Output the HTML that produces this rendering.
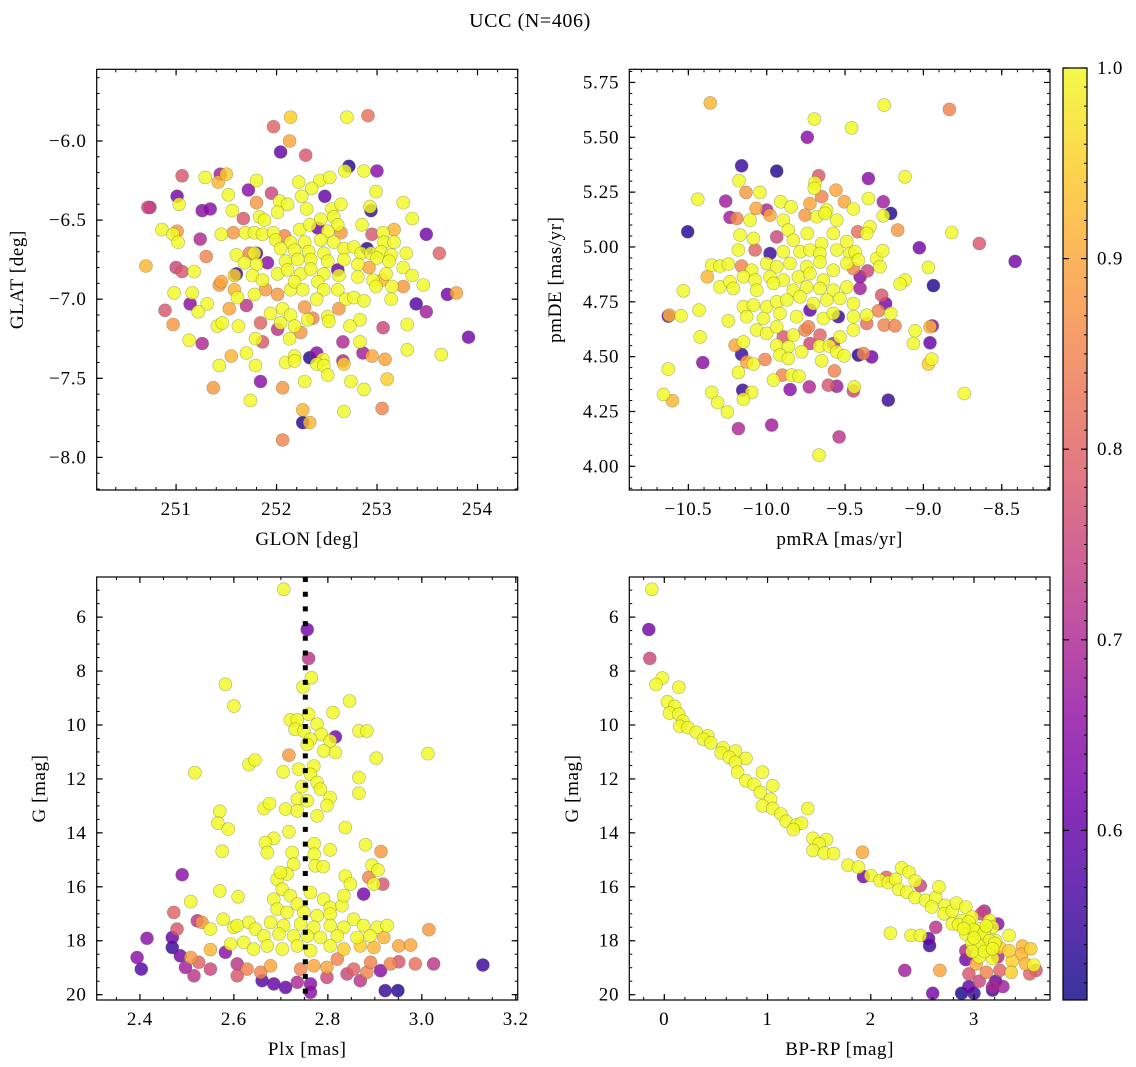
<!DOCTYPE html>
<html><head><meta charset="utf-8"><title>UCC (N=406)</title>
<style>
html,body{margin:0;padding:0;background:#fff;}
svg{display:block;font-family:"Liberation Serif","DejaVu Serif",serif;}
</style></head>
<body>
<svg id="fig" width="1136" height="1067" viewBox="0 0 1136 1067" xmlns="http://www.w3.org/2000/svg">
<text x="530" y="27" font-size="20" letter-spacing="0.6" text-anchor="middle" fill="#000">UCC (N=406)</text>
</svg>
<script>
// ---- Panel 1 data: [GLON, GLAT, prob]
const posPoints = [
[252.14,-5.85,0.95],[252.70,-5.85,1],[252.91,-5.84,0.82],[251.97,-5.91,0.8],[252.13,-6.0,0.9],[252.04,-6.07,0.6],[252.29,-6.09,0.78],[252.72,-6.16,0.53],[252.68,-6.19,1],[252.87,-6.19,1],[253.0,-6.19,0.65],[251.06,-6.22,0.78],[251.44,-6.21,0.68],[251.5,-6.21,0.95],[251.29,-6.23,1],[251.42,-6.26,0.92],[251.8,-6.25,1],[252.22,-6.26,1],[252.43,-6.25,1],[252.53,-6.23,1],[251.72,-6.31,0.65],[251.95,-6.33,0.75],[252.35,-6.3,1],[252.99,-6.32,1],[252.48,-6.35,0.6],[251.52,-6.34,1],[252.25,-6.35,1],[250.74,-6.42,0.72],[250.72,-6.42,0.75],[251.01,-6.35,0.62],[251.03,-6.4,1],[251.26,-6.44,0.65],[251.34,-6.43,0.65],[251.56,-6.44,1],[251.8,-6.39,0.88],[252.03,-6.38,1],[252.11,-6.4,1],[252.01,-6.45,1],[252.3,-6.43,1],[252.55,-6.43,1],[252.64,-6.4,1],[252.93,-6.415,1],[252.94,-6.44,0.55],[253.26,-6.39,1],[253.35,-6.49,1],[251.67,-6.49,0.78],[251.83,-6.48,1],[251.88,-6.5,1],[252.44,-6.495,1],[252.57,-6.48,1],[252.61,-6.53,1],[250.86,-6.56,1],[251.01,-6.57,0.88],[250.97,-6.59,1],[251.02,-6.64,1],[251.24,-6.62,0.7],[251.45,-6.59,1],[251.57,-6.58,0.88],[251.69,-6.58,1],[251.78,-6.58,1],[251.86,-6.59,1],[251.97,-6.58,1],[252.08,-6.6,0.85],[252.23,-6.56,1],[252.33,-6.53,1],[252.41,-6.55,0.62],[252.51,-6.57,1],[252.64,-6.58,0.88],[252.85,-6.53,1],[252.95,-6.59,0.78],[253.06,-6.58,1],[253.17,-6.56,0.92],[253.49,-6.59,0.62],[251.99,-6.625,1],[252.14,-6.64,1],[252.28,-6.64,1],[252.44,-6.625,1],[252.57,-6.64,1],[252.67,-6.68,1],[252.77,-6.67,1],[252.9,-6.68,0.53],[253.07,-6.64,1],[253.17,-6.64,1],[251.3,-6.73,0.85],[251.6,-6.72,1],[251.73,-6.71,0.85],[251.78,-6.71,1],[251.8,-6.71,0.6],[252.04,-6.68,1],[252.18,-6.69,1],[252.32,-6.7,1],[252.47,-6.71,1],[252.84,-6.71,1],[252.94,-6.71,1],[253.04,-6.7,1],[253.14,-6.72,1],[253.29,-6.71,1],[253.62,-6.71,0.8],[250.7,-6.79,0.92],[251.0,-6.8,0.75],[251.06,-6.825,0.78],[251.18,-6.825,1],[251.68,-6.77,1],[251.8,-6.78,1],[251.91,-6.77,0.65],[252.09,-6.76,1],[252.21,-6.75,1],[252.34,-6.75,1],[252.51,-6.76,1],[252.67,-6.75,1],[252.81,-6.78,1],[252.92,-6.8,0.9],[253.0,-6.74,1],[253.12,-6.76,1],[253.26,-6.8,1],[251.6,-6.84,0.55],[251.58,-6.85,0.95],[251.76,-6.85,1],[251.86,-6.88,1],[252.01,-6.84,1],[252.11,-6.815,1],[252.24,-6.84,1],[252.34,-6.81,1],[252.47,-6.84,1],[252.61,-6.815,0.6],[252.62,-6.85,1],[252.81,-6.86,1],[252.96,-6.88,1],[253.05,-6.88,0.92],[253.09,-6.84,1],[253.35,-6.85,1],[253.46,-6.91,1],[251.43,-6.91,0.88],[251.45,-6.89,0.9],[251.58,-6.94,0.92],[251.61,-6.99,1],[251.78,-6.97,1],[251.89,-6.94,0.88],[252.01,-6.97,0.88],[252.14,-6.94,1],[252.18,-6.89,1],[252.26,-6.94,1],[252.41,-6.89,1],[252.47,-6.94,1],[252.61,-6.94,1],[252.69,-7.0,1],[252.77,-6.99,1],[252.87,-7.01,1],[252.99,-6.92,1],[253.15,-6.92,1],[253.26,-6.92,0.88],[253.14,-7.0,1],[253.7,-6.97,0.62],[253.79,-6.96,0.9],[250.98,-6.96,1],[251.16,-6.96,1],[251.14,-7.03,0.65],[251.31,-7.03,1],[251.22,-7.08,1],[250.89,-7.07,0.78],[250.97,-7.16,0.88],[251.53,-7.06,0.9],[251.7,-7.04,0.72],[251.94,-7.09,1],[252.06,-7.06,1],[252.14,-7.1,1],[252.28,-7.05,0.88],[252.36,-7.12,0.85],[252.4,-7.0,1],[252.51,-7.11,1],[252.62,-7.06,0.88],[252.83,-7.13,1],[253.39,-7.03,0.58],[253.49,-7.08,0.68],[253.06,-7.18,0.75],[253.3,-7.16,1],[253.91,-7.24,0.62],[251.41,-7.17,1],[251.46,-7.15,1],[251.62,-7.17,1],[251.84,-7.15,0.8],[252.01,-7.19,0.72],[252.04,-7.15,1],[252.18,-7.17,1],[252.31,-7.13,1],[252.52,-7.14,1],[252.73,-7.17,1],[251.13,-7.26,1],[251.26,-7.28,0.7],[251.79,-7.25,1],[251.86,-7.27,0.78],[252.13,-7.25,1],[252.24,-7.21,0.88],[252.66,-7.27,0.7],[252.83,-7.27,1],[252.86,-7.34,0.68],[252.95,-7.36,0.9],[253.08,-7.38,0.9],[253.3,-7.32,1],[253.64,-7.35,1],[251.55,-7.36,0.92],[251.7,-7.34,1],[251.43,-7.42,1],[251.79,-7.42,1],[252.09,-7.4,1],[252.18,-7.36,1],[252.18,-7.39,1],[252.33,-7.37,0.53],[252.4,-7.34,0.65],[252.46,-7.38,1],[252.4,-7.41,1],[252.47,-7.42,1],[252.51,-7.48,1],[252.67,-7.41,0.95],[252.66,-7.39,0.7],[252.28,-7.52,1],[252.74,-7.52,1],[252.87,-7.57,1],[253.1,-7.505,0.95],[251.84,-7.52,0.65],[251.37,-7.56,0.88],[252.06,-7.56,0.88],[251.74,-7.64,1],[252.26,-7.7,0.92],[253.05,-7.69,0.85],[252.67,-7.71,1],[252.26,-7.78,0.53],[252.33,-7.78,0.92],[252.06,-7.89,0.85]
];
// ---- Panel 2 data: [pmRA, pmDE, prob]
const pmPoints = [
[-10.36,5.657,0.92],[-9.25,5.647,1],[-8.834,5.627,0.85],[-9.696,5.583,1],[-9.458,5.543,1],[-9.741,5.5,0.65],[-10.16,5.37,0.55],[-9.936,5.346,0.53],[-9.668,5.325,0.78],[-9.692,5.293,1],[-9.351,5.312,0.65],[-9.117,5.32,1],[-10.177,5.302,1],[-10.132,5.249,0.88],[-10.043,5.249,1],[-9.696,5.267,1],[-9.558,5.259,0.9],[-9.649,5.229,0.85],[-10.44,5.218,1],[-10.262,5.209,0.68],[-9.911,5.206,1],[-9.845,5.183,1],[-9.724,5.198,0.9],[-9.504,5.206,0.9],[-9.447,5.173,1],[-9.351,5.221,1],[-9.256,5.206,0.68],[-9.209,5.153,0.53],[-10.068,5.176,0.9],[-10.0,5.168,0.7],[-10.234,5.135,0.68],[-10.191,5.13,0.85],[-10.106,5.122,1],[-9.979,5.145,0.9],[-9.894,5.122,1],[-9.755,5.145,0.88],[-9.681,5.138,1],[-9.617,5.168,1],[-9.553,5.122,1],[-9.628,5.153,1],[-9.256,5.142,1],[-9.419,5.069,0.82],[-9.341,5.092,1],[-9.164,5.077,0.88],[-8.819,5.066,1],[-8.643,5.016,0.78],[-10.504,5.069,0.53],[-10.17,5.054,1],[-10.085,5.039,1],[-9.936,5.046,0.75],[-9.862,5.077,1],[-9.83,5.031,1],[-9.741,5.062,1],[-9.649,5.016,1],[-9.575,5.062,1],[-9.489,5.024,1],[-9.362,5.062,1],[-10.181,4.986,1],[-10.074,4.986,0.8],[-9.979,4.97,0.55],[-9.894,4.978,1],[-9.787,4.978,1],[-9.724,4.986,1],[-9.66,4.97,1],[-9.553,4.986,1],[-9.468,4.97,1],[-9.436,4.978,1],[-9.298,4.948,1],[-9.26,4.983,1],[-9.026,4.996,0.62],[-8.415,4.934,0.62],[-8.968,4.907,1],[-8.936,4.824,0.53],[-9.117,4.849,1],[-9.149,4.831,1],[-10.379,4.864,0.92],[-10.351,4.917,1],[-10.298,4.913,1],[-10.245,4.922,1],[-10.298,4.818,1],[-10.234,4.841,1],[-10.16,4.913,0.85],[-10.096,4.894,1],[-10.0,4.925,1],[-9.936,4.91,1],[-9.851,4.925,1],[-9.745,4.91,1],[-9.66,4.932,1],[-9.575,4.894,1],[-9.489,4.925,1],[-9.415,4.94,1],[-9.447,4.902,0.85],[-9.357,4.891,0.75],[-9.277,4.91,1],[-10.149,4.864,1],[-10.074,4.849,1],[-9.979,4.864,1],[-9.894,4.849,1],[-9.798,4.864,1],[-9.724,4.879,1],[-9.638,4.849,1],[-9.404,4.864,0.65],[-10.213,4.811,1],[-10.064,4.803,1],[-9.957,4.834,1],[-9.83,4.803,1],[-9.745,4.818,1],[-9.66,4.811,1],[-9.575,4.803,1],[-9.489,4.818,1],[-9.404,4.811,0.68],[-10.532,4.8,1],[-10.432,4.712,1],[-10.547,4.686,1],[-10.628,4.685,0.6],[-10.621,4.689,0.92],[-10.245,4.663,1],[-10.149,4.727,1],[-10.085,4.735,1],[-10.0,4.727,1],[-9.936,4.75,1],[-9.872,4.758,1],[-9.787,4.773,1],[-9.702,4.742,1],[-9.617,4.758,1],[-9.532,4.765,1],[-9.447,4.742,1],[-9.266,4.78,0.78],[-9.241,4.742,0.62],[-10.128,4.682,1],[-10.021,4.674,1],[-9.915,4.697,1],[-9.809,4.682,1],[-9.724,4.712,0.6],[-9.638,4.674,1],[-9.543,4.682,0.55],[-9.575,4.697,1],[-9.447,4.682,1],[-9.362,4.689,1],[-9.287,4.709,0.85],[-9.209,4.697,1],[-9.362,4.651,0.82],[-9.251,4.644,0.85],[-9.181,4.64,0.85],[-9.053,4.618,1],[-8.943,4.64,0.65],[-8.958,4.636,0.92],[-9.064,4.56,1],[-8.958,4.563,0.6],[-8.968,4.466,0.95],[-8.947,4.489,1],[-10.425,4.59,1],[-10.628,4.443,1],[-10.408,4.473,0.65],[-10.16,4.51,0.55],[-10.128,4.476,0.9],[-10.085,4.466,1],[-10.181,4.428,1],[-10.202,4.552,0.9],[-10.149,4.567,1],[-10.064,4.621,1],[-10.0,4.606,1],[-9.936,4.636,1],[-9.894,4.59,0.78],[-9.83,4.598,1],[-9.755,4.621,0.85],[-9.734,4.636,0.85],[-9.66,4.598,0.8],[-9.575,4.56,0.7],[-9.532,4.59,1],[-9.447,4.621,1],[-9.936,4.552,1],[-9.862,4.545,1],[-9.777,4.522,1],[-9.724,4.56,0.75],[-9.664,4.548,1],[-9.6,4.548,1],[-9.553,4.522,1],[-9.506,4.504,1],[-9.649,4.481,1],[-10.011,4.487,0.85],[-9.915,4.507,1],[-9.862,4.492,1],[-9.415,4.507,0.53],[-9.383,4.514,0.85],[-9.33,4.499,0.62],[-9.568,4.435,0.85],[-9.957,4.393,1],[-9.9,4.416,0.85],[-9.841,4.416,1],[-9.794,4.411,1],[-9.851,4.35,0.65],[-9.728,4.362,0.7],[-9.607,4.37,0.78],[-9.553,4.365,0.68],[-9.447,4.344,0.75],[-9.441,4.362,1],[-10.153,4.347,0.55],[-10.096,4.337,1],[-10.149,4.306,1],[-10.351,4.337,1],[-10.313,4.291,1],[-10.251,4.248,1],[-10.659,4.328,1],[-10.602,4.299,0.92],[-9.224,4.302,0.55],[-8.739,4.332,1],[-10.181,4.172,0.7],[-9.968,4.188,0.68],[-9.538,4.134,0.72],[-9.666,4.051,1]
];
// ---- Panel 3 data: [Plx, G, prob]
const plxPoints = [
[2.706,4.97,1],[2.756,6.46,0.62],[2.759,7.53,0.72],[2.765,8.25,1],[2.747,8.59,1],[2.582,8.49,1],[2.6,9.3,1],[2.846,9.11,1],[2.811,9.54,1],[2.759,9.6,1],[2.72,9.81,1],[2.735,9.81,1],[2.777,9.97,1],[2.73,10.16,1],[2.749,10.22,1],[2.786,10.35,1],[2.816,10.44,0.62],[2.866,10.22,1],[2.883,10.22,1],[2.805,10.59,1],[2.763,10.53,1],[2.816,11.02,1],[2.791,10.96,1],[2.756,10.72,1],[2.717,11.12,0.88],[3.013,11.06,1],[2.903,11.23,1],[2.632,11.47,1],[2.645,11.3,1],[2.517,11.77,1],[2.705,11.74,1],[2.738,11.64,1],[2.77,11.52,1],[2.763,11.83,1],[2.866,11.95,1],[2.866,12.53,1],[2.745,12.28,1],[2.777,12.13,1],[2.784,12.38,1],[2.805,12.69,1],[2.798,12.99,1],[2.735,12.75,1],[2.756,12.81,1],[2.71,13.12,1],[2.664,13.1,1],[2.676,12.91,1],[2.735,13.18,1],[2.777,13.37,1],[2.57,13.2,1],[2.566,13.64,1],[2.588,13.86,1],[2.837,13.8,1],[2.717,13.96,1],[2.685,14.2,1],[2.667,14.36,1],[2.671,14.73,1],[2.575,14.68,1],[2.771,14.4,1],[2.805,14.63,1],[2.88,14.44,1],[2.913,14.69,0.88],[2.724,14.73,1],[2.771,14.79,1],[2.727,15.16,1],[2.773,15.22,1],[2.79,15.25,1],[2.49,15.55,0.65],[2.876,16.27,0.62],[2.894,15.2,1],[2.907,15.38,1],[2.887,15.65,0.85],[2.898,15.9,1],[2.917,15.9,0.78],[2.837,15.6,1],[2.848,15.9,1],[2.692,15.72,1],[2.713,15.53,1],[2.57,16.15,1],[2.609,16.37,1],[2.508,16.55,1],[2.472,16.95,0.8],[2.479,17.57,0.78],[2.522,17.26,0.72],[2.532,17.32,0.88],[2.55,17.57,1],[2.577,17.2,1],[2.6,17.5,1],[2.607,17.44,1],[2.632,17.32,1],[2.685,16.46,1],[2.703,16.09,1],[2.699,15.47,1],[2.72,16.33,1],[2.735,16.64,1],[2.763,16.21,1],[2.791,16.46,1],[2.805,16.77,1],[2.83,16.7,1],[2.834,16.33,1],[2.692,16.83,1],[2.713,16.95,1],[2.749,16.95,1],[2.777,17.07,1],[2.805,17.01,1],[2.678,17.32,1],[2.706,17.44,1],[2.742,17.38,1],[2.77,17.5,1],[2.805,17.44,1],[2.834,17.5,1],[2.855,17.2,1],[2.876,17.44,1],[2.905,17.5,1],[2.926,17.44,1],[2.919,17.88,0.92],[2.646,17.57,1],[2.664,17.82,1],[2.696,17.75,1],[2.727,17.82,1],[2.756,17.82,1],[2.784,17.88,1],[2.82,17.82,1],[2.862,17.88,1],[2.89,17.82,1],[2.593,18.12,1],[2.621,18.06,1],[2.642,18.31,1],[2.671,18.19,1],[2.703,18.31,1],[2.735,18.19,1],[2.763,18.37,1],[2.805,18.19,1],[2.834,18.31,0.95],[2.869,18.19,0.95],[2.898,18.25,0.92],[2.951,18.19,0.9],[2.976,18.16,0.9],[3.015,17.59,0.88],[2.55,18.33,0.92],[2.508,18.62,0.88],[2.394,18.62,0.65],[2.415,17.91,0.65],[2.403,19.05,0.58],[2.469,17.88,0.6],[2.469,18.25,0.55],[2.486,18.56,0.62],[2.497,18.99,0.68],[2.515,19.3,0.72],[2.525,18.8,0.8],[2.55,19.05,0.75],[2.582,18.43,0.65],[2.607,18.86,0.72],[2.607,19.3,0.78],[2.628,19.05,0.85],[2.657,19.17,0.85],[2.678,18.93,0.9],[2.66,19.48,0.58],[2.685,19.6,0.6],[2.71,19.73,0.6],[2.735,19.54,0.7],[2.763,19.6,0.65],[2.763,19.91,0.65],[2.742,19.05,0.85],[2.77,18.93,0.9],[2.798,18.99,0.9],[2.798,19.36,0.75],[2.82,18.68,0.85],[2.841,19.23,0.75],[2.855,19.05,0.8],[2.869,19.48,0.72],[2.883,19.17,0.85],[2.891,18.8,0.85],[2.912,19.11,0.65],[2.933,18.86,0.85],[2.951,18.78,0.78],[2.986,18.86,0.82],[3.025,18.86,0.72],[3.13,18.9,0.55],[2.922,19.85,0.55],[2.949,19.85,0.53]
];
// ---- Panel 4 data: [BP-RP, G, prob]
const cmdPoints = [
[-0.12,4.97,1],[-0.15,6.46,0.62],[-0.14,7.53,0.75],[-0.02,8.26,1],[-0.08,8.5,1],[0.14,8.6,1],[0.03,9.14,1],[0.1,9.31,1],[0.05,9.56,1],[0.14,9.6,1],[0.18,9.86,1],[0.15,10.05,1],[0.23,10.1,1],[0.31,10.27,1],[0.42,10.4,1],[0.38,10.53,1],[0.45,10.66,1],[0.57,10.85,1],[0.69,10.97,1],[0.55,11.03,1],[0.63,11.2,1],[0.79,11.24,1],[0.69,11.38,1],[0.71,11.75,1],[0.95,11.75,1],[0.79,12.07,1],[0.87,12.2,1],[1.05,12.25,1],[0.93,12.5,1],[1.03,12.75,1],[0.95,13.0,1],[1.05,13.1,1],[1.13,13.3,1],[1.39,13.1,1],[1.18,13.57,1],[1.28,13.7,1],[1.33,13.64,1],[1.25,13.88,1],[1.44,14.2,1],[1.57,14.25,1],[1.5,14.4,1],[1.44,14.65,1],[1.55,14.75,1],[1.64,14.77,1],[1.92,14.72,0.9],[1.78,15.2,1],[1.88,15.27,1],[1.93,15.62,0.62],[2.0,15.58,1],[2.09,15.77,1],[2.17,15.84,1],[2.15,15.65,0.8],[2.3,15.3,1],[2.37,15.46,1],[2.24,15.72,1],[2.27,16.1,1],[2.35,16.2,1],[2.43,15.78,1],[2.48,15.96,0.75],[2.43,16.4,1],[2.53,16.5,1],[2.63,16.4,1],[2.66,16.0,1],[2.59,16.75,1],[2.72,16.69,1],[2.71,17.0,1],[2.79,16.9,1],[2.83,16.6,1],[2.92,16.75,1],[2.88,17.25,1],[2.98,17.12,1],[3.07,17.0,0.75],[3.1,16.9,0.7],[2.79,17.38,1],[2.95,17.5,1],[3.05,17.57,1],[3.15,17.25,1],[3.18,17.5,1],[3.23,17.38,0.65],[2.92,17.75,1],[3.08,17.88,1],[3.21,18.0,1],[2.98,18.1,1],[3.12,18.25,1],[3.25,18.25,0.95],[3.34,17.8,1],[3.05,18.6,1],[3.18,18.66,1],[3.47,18.2,0.92],[3.55,18.3,0.95],[3.46,18.5,0.92],[3.37,18.75,0.95],[3.5,18.86,0.92],[3.58,18.9,1],[3.02,18.86,0.9],[2.95,19.23,0.78],[3.12,19.17,0.85],[3.25,19.1,0.8],[3.36,19.17,0.95],[3.54,19.23,0.8],[3.6,19.1,0.78],[2.92,18.7,0.62],[3.05,19.5,0.75],[3.18,19.7,0.7],[3.28,19.7,0.68],[3.21,19.5,0.6],[2.95,19.7,0.6],[2.88,19.95,0.52],[3.0,19.95,0.55],[3.18,19.83,0.55],[2.6,19.95,0.62],[2.33,19.1,0.68],[2.67,19.1,0.9],[2.56,17.92,0.6],[2.57,18.18,0.55],[2.63,17.5,0.72],[2.19,17.72,1],[2.39,17.8,1],[2.48,17.8,1],[2.92,18.37,0.7],[3.34,18.37,0.95],[3.23,18.6,0.7],[2.85,17.4,1],[2.95,17.3,1],[3.0,17.6,1],[3.1,17.7,1],[3.15,18.0,1],[3.05,18.2,1],[3.1,18.4,1],[2.98,18.4,1],[3.2,18.1,1],[3.0,17.9,1],[2.9,17.55,1],[3.12,17.45,1],[3.18,18.3,1]
];
// median parallax line
const plxMedian = [2.752];
// colorbar
const cbarTicks = [0.6, 0.7, 0.8, 0.9, 1.0];
const cbarRange = [0.511, 1.0];

const NS = "http://www.w3.org/2000/svg";
const svg = document.getElementById('fig');
const FS = 19;
function mk(tag, attrs, parent) {
  const e = document.createElementNS(NS, tag);
  for (const k in attrs) e.setAttribute(k, attrs[k]);
  (parent || svg).appendChild(e);
  return e;
}
const plasmaStops = ["#0d0887","#41049d","#6a00a8","#8f0da4","#b12a90","#cc4778","#e16462","#f2844b","#fca636","#fcce25","#f0f921"];
function hex2rgb(h){return [parseInt(h.substr(1,2),16),parseInt(h.substr(3,2),16),parseInt(h.substr(5,2),16)];}
function plasma(t){
  t = Math.max(0, Math.min(1, t));
  const s = t*10, i = Math.min(9, Math.floor(s)), f = s - i;
  const a = hex2rgb(plasmaStops[i]), b = hex2rgb(plasmaStops[i+1]);
  return 'rgb(' + [0,1,2].map(k => Math.round(a[k] + (b[k]-a[k])*f)).join(',') + ')';
}
function pColor(p){ return plasma((p - cbarRange[0])/(cbarRange[1]-cbarRange[0])); }
function fmtNum(v, d){ const s = Math.abs(v).toFixed(d); return (v < -1e-9 ? '\u2212' : '') + s; }

function panel(cfg){
  const [L, T, R, B] = cfg.box;
  const g = mk('g', {});
  
  
  const sx = v => L + (v - cfg.xlim[0])/(cfg.xlim[1]-cfg.xlim[0])*(R-L);
  const sy = cfg.yinv ? (v => T + (v - cfg.ylim[0])/(cfg.ylim[1]-cfg.ylim[0])*(B-T))
                      : (v => B - (v - cfg.ylim[0])/(cfg.ylim[1]-cfg.ylim[0])*(B-T));
  const clip = mk('clipPath', {id: 'clip-' + cfg.name}, g);
  mk('rect', {x: L, y: T, width: R-L, height: B-T}, clip);
  const pts = mk('g', {'clip-path': 'url(#clip-' + cfg.name + ')'}, g);
  const sorted = cfg.data.slice().sort((a, b) => a[2] - b[2]);
  for (const d of sorted) {
    const c = mk('circle', {cx: sx(d[0]).toFixed(1), cy: sy(d[1]).toFixed(1), r: 6.5, fill: pColor(d[2]), 'fill-opacity': 0.82, stroke: '#5a5a3a', 'stroke-opacity': 0.45, 'stroke-width': 0.6}, pts);
    
    
  }
  if (cfg.vline) {
    for (const v of cfg.vline) {
      const ln = mk('line', {x1: sx(v), x2: sx(v), y1: T, y2: B, stroke: '#000', 'stroke-width': 5, 'stroke-dasharray': '5 9.7'}, pts);
      
      
    }
  }
  mk('rect', {x: L, y: T, width: R-L, height: B-T, fill: 'none', stroke: '#000', 'stroke-width': 1.2}, g);
  const eps = 1e-9;
  function ticks(lo, hi, step){ const out=[]; const s=Math.ceil((Math.min(lo,hi)-eps)/step); for(let k=s; k*step<=Math.max(lo,hi)+eps; k++) out.push(+(k*step).toFixed(6)); return out; }
  for (const v of ticks(cfg.xlim[0], cfg.xlim[1], cfg.xminor)) {
    const x = sx(v);
    mk('line', {x1:x,x2:x,y1:B,y2:B-3,stroke:'#000','stroke-width':1}, g);
    mk('line', {x1:x,x2:x,y1:T,y2:T+3,stroke:'#000','stroke-width':1}, g);
  }
  for (const v of ticks(cfg.ylim[0], cfg.ylim[1], cfg.yminor)) {
    const y = sy(v);
    mk('line', {x1:L,x2:L+3,y1:y,y2:y,stroke:'#000','stroke-width':1}, g);
    mk('line', {x1:R,x2:R-3,y1:y,y2:y,stroke:'#000','stroke-width':1}, g);
  }
  for (const v of cfg.xticks) {
    const x = sx(v);
    mk('line', {x1:x,x2:x,y1:B,y2:B-6,stroke:'#000','stroke-width':1.2}, g);
    mk('line', {x1:x,x2:x,y1:T,y2:T+6,stroke:'#000','stroke-width':1.2}, g);
    const t = mk('text', {x:x, y:B+25, 'font-size':FS, 'letter-spacing':0.8, 'text-anchor':'middle', fill:'#000'}, g);
    t.textContent = fmtNum(v, cfg.xdec);
    
    
  }
  for (const v of cfg.yticks) {
    const y = sy(v);
    mk('line', {x1:L,x2:L+6,y1:y,y2:y,stroke:'#000','stroke-width':1.2}, g);
    mk('line', {x1:R,x2:R-6,y1:y,y2:y,stroke:'#000','stroke-width':1.2}, g);
    const t = mk('text', {x:L-10, y:y+6, 'font-size':FS, 'letter-spacing':0.8, 'text-anchor':'end', fill:'#000'}, g);
    t.textContent = fmtNum(v, cfg.ydec);
    
    
  }
  const xl = mk('text', {x:(L+R)/2, y:B+55, 'font-size':FS, 'letter-spacing':0.6, 'text-anchor':'middle', fill:'#000'}, g);
  xl.textContent = cfg.xlabel;
  
  
  const yc = (T+B)/2;
  const yl = mk('text', {x:cfg.ylabelX, y:yc, 'font-size':FS, 'letter-spacing':0.6, 'text-anchor':'middle', fill:'#000', transform:'rotate(-90 '+cfg.ylabelX+' '+yc+')'}, g);
  yl.textContent = cfg.ylabel;
  
  
}

panel({name:'glon-glat-panel', box:[96.7,69.3,517.7,490], xlim:[250.21,254.4], ylim:[-8.206,-5.547], data:posPoints,
  xticks:[251,252,253,254], xdec:0, xminor:0.2, yticks:[-8.0,-7.5,-7.0,-6.5,-6.0], ydec:1, yminor:0.1,
  xlabel:'GLON [deg]', ylabel:'GLAT [deg]', ylabelX:23});
panel({name:'pm-panel', box:[629.3,69.3,1050,490], xlim:[-10.877,-8.192], ylim:[3.892,5.81], data:pmPoints,
  xticks:[-10.5,-10.0,-9.5,-9.0,-8.5], xdec:1, xminor:0.1, yticks:[4.0,4.25,4.5,4.75,5.0,5.25,5.5,5.75], ydec:2, yminor:0.05,
  xlabel:'pmRA [mas/yr]', ylabel:'pmDE [mas/yr]', ylabelX:561});
panel({name:'plx-g-panel', box:[96.7,577,517.7,1000], xlim:[2.308,3.204], ylim:[4.513,20.197], yinv:true, data:plxPoints, vline:plxMedian,
  xticks:[2.4,2.6,2.8,3.0,3.2], xdec:1, xminor:0.05, yticks:[6,8,10,12,14,16,18,20], ydec:0, yminor:0.5,
  xlabel:'Plx [mas]', ylabel:'G [mag]', ylabelX:45});
panel({name:'cmd-panel', box:[629.3,577,1050,1000], xlim:[-0.339,3.736], ylim:[4.513,20.197], yinv:true, data:cmdPoints,
  xticks:[0,1,2,3], xdec:0, xminor:0.2, yticks:[6,8,10,12,14,16,18,20], ydec:0, yminor:0.5,
  xlabel:'BP-RP [mag]', ylabel:'G [mag]', ylabelX:578});

(function(){
  const L=1063, R=1087, T=68, B=1000;
  const g = mk('g', {});
  
  
  const defs = mk('defs', {}, g);
  const lg = mk('linearGradient', {id:'plasmaGrad', x1:0, y1:1, x2:0, y2:0}, defs);
  for (let i=0;i<=20;i++){ mk('stop', {offset:(i/20), 'stop-color':plasma(i/20), 'stop-opacity':0.82}, lg); }
  mk('rect', {x:L, y:T, width:R-L, height:B-T, fill:'url(#plasmaGrad)', stroke:'#000', 'stroke-width':1.2}, g);
  const sy = v => B - (v - cbarRange[0])/(cbarRange[1]-cbarRange[0])*(B-T);
  for (let k = 52; k <= 100; k++) {
    const v = k/100; const y = sy(v);
    if (y < T-0.5 || y > B+0.5) continue;
    mk('line', {x1:R, x2:R-3, y1:y, y2:y, stroke:'#000','stroke-width':1}, g);
  }
  for (const v of cbarTicks) {
    const y = sy(v);
    mk('line', {x1:R, x2:R-6, y1:y, y2:y, stroke:'#000','stroke-width':1.2}, g);
    mk('line', {x1:L, x2:L+6, y1:y, y2:y, stroke:'#000','stroke-width':1.2}, g);
    const t = mk('text', {x:R+10, y:y+6, 'font-size':FS, 'letter-spacing':0.8, fill:'#000'}, g);
    t.textContent = v.toFixed(1);
    
    
  }
})();
</script>
</body></html>
